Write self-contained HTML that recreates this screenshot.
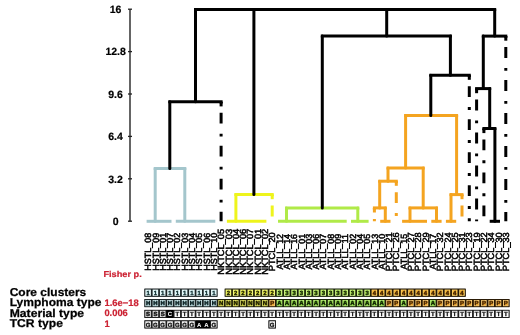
<!DOCTYPE html>
<html><head><meta charset="utf-8"><style>
html,body{margin:0;padding:0;background:#fff;}
svg{display:block;will-change:transform;}
text{font-family:"Liberation Sans",sans-serif;text-rendering:geometricPrecision;}
</style></head><body>
<svg width="520" height="335" viewBox="0 0 520 335">
<rect width="520" height="335" fill="#fff"/>
<g><line x1="130" y1="9.2" x2="130" y2="221.3" stroke="#545454" stroke-width="1.8"/>
<line x1="128" y1="9.2" x2="132" y2="9.2" stroke="#222" stroke-width="1.3"/><text x="115.6" y="12.95" font-size="10.5" font-weight="bold" text-anchor="middle" fill="#000" stroke="#000" stroke-width="0.2">16</text>
<line x1="128" y1="51.6" x2="132" y2="51.6" stroke="#222" stroke-width="1.3"/><text x="115.6" y="55.35" font-size="10.5" font-weight="bold" text-anchor="middle" fill="#000" stroke="#000" stroke-width="0.2">12.8</text>
<line x1="128" y1="94.0" x2="132" y2="94.0" stroke="#222" stroke-width="1.3"/><text x="115.6" y="97.75" font-size="10.5" font-weight="bold" text-anchor="middle" fill="#000" stroke="#000" stroke-width="0.2">9.6</text>
<line x1="128" y1="136.4" x2="132" y2="136.4" stroke="#222" stroke-width="1.3"/><text x="115.6" y="140.15" font-size="10.5" font-weight="bold" text-anchor="middle" fill="#000" stroke="#000" stroke-width="0.2">6.4</text>
<line x1="128" y1="178.8" x2="132" y2="178.8" stroke="#222" stroke-width="1.3"/><text x="115.6" y="182.55" font-size="10.5" font-weight="bold" text-anchor="middle" fill="#000" stroke="#000" stroke-width="0.2">3.2</text>
<line x1="128" y1="221.2" x2="132" y2="221.2" stroke="#222" stroke-width="1.3"/><text x="115.6" y="224.95" font-size="10.5" font-weight="bold" text-anchor="middle" fill="#000" stroke="#000" stroke-width="0.2">0</text>
</g>
<g stroke-width="3.0" stroke-linecap="butt" fill="none">
<line x1="153.70" y1="168.40" x2="186.30" y2="168.40" stroke="#a4c6cc"/><line x1="155.20" y1="168.40" x2="155.20" y2="221.30" stroke="#a4c6cc" stroke-linecap="round"/><line x1="184.80" y1="168.40" x2="184.80" y2="221.30" stroke="#a4c6cc" stroke-linecap="round"/><line x1="146.60" y1="221.30" x2="171.50" y2="221.30" stroke="#a4c6cc"/><line x1="175.80" y1="221.30" x2="215.30" y2="221.30" stroke="#a4c6cc"/><line x1="234.40" y1="194.60" x2="273.70" y2="194.60" stroke="#eef41c"/><line x1="235.90" y1="194.60" x2="235.90" y2="221.30" stroke="#eef41c" stroke-linecap="round"/><line x1="226.90" y1="221.30" x2="266.40" y2="221.30" stroke="#eef41c"/><line x1="285.00" y1="208.10" x2="359.30" y2="208.10" stroke="#b0ea48"/><line x1="286.50" y1="208.10" x2="286.50" y2="221.30" stroke="#b0ea48" stroke-linecap="round"/><line x1="357.80" y1="208.10" x2="357.80" y2="221.30" stroke="#b0ea48" stroke-linecap="round"/><line x1="278.00" y1="221.30" x2="346.70" y2="221.30" stroke="#b0ea48"/><line x1="351.00" y1="221.30" x2="368.60" y2="221.30" stroke="#b0ea48"/><line x1="404.10" y1="115.40" x2="458.10" y2="115.40" stroke="#f4a420"/><line x1="405.60" y1="115.40" x2="405.60" y2="168.10" stroke="#f4a420" stroke-linecap="round"/><line x1="456.60" y1="115.40" x2="456.60" y2="194.60" stroke="#f4a420" stroke-linecap="round"/><line x1="386.50" y1="168.10" x2="424.70" y2="168.10" stroke="#f4a420"/><line x1="388.00" y1="168.10" x2="388.00" y2="181.20" stroke="#f4a420" stroke-linecap="round"/><line x1="423.20" y1="168.10" x2="423.20" y2="207.90" stroke="#f4a420" stroke-linecap="round"/><line x1="378.20" y1="181.20" x2="397.80" y2="181.20" stroke="#f4a420"/><line x1="379.70" y1="181.20" x2="379.70" y2="207.90" stroke="#f4a420" stroke-linecap="round"/><line x1="372.90" y1="207.90" x2="386.80" y2="207.90" stroke="#f4a420"/><line x1="385.30" y1="207.90" x2="385.30" y2="221.30" stroke="#f4a420" stroke-linecap="round"/><line x1="380.20" y1="221.30" x2="390.50" y2="221.30" stroke="#f4a420"/><line x1="408.50" y1="207.90" x2="438.00" y2="207.90" stroke="#f4a420"/><line x1="410.00" y1="207.90" x2="410.00" y2="221.30" stroke="#f4a420" stroke-linecap="round"/><line x1="436.50" y1="207.90" x2="436.50" y2="221.30" stroke="#f4a420" stroke-linecap="round"/><line x1="402.10" y1="221.30" x2="427.00" y2="221.30" stroke="#f4a420"/><line x1="431.30" y1="221.30" x2="441.60" y2="221.30" stroke="#f4a420"/><line x1="449.50" y1="194.60" x2="463.50" y2="194.60" stroke="#f4a420"/><line x1="451.00" y1="194.60" x2="451.00" y2="221.30" stroke="#f4a420" stroke-linecap="round"/><line x1="445.90" y1="221.30" x2="456.20" y2="221.30" stroke="#f4a420"/><line x1="194.00" y1="9.45" x2="496.20" y2="9.45" stroke="#000"/><line x1="195.50" y1="9.45" x2="195.50" y2="101.80" stroke="#000" stroke-linecap="round"/><line x1="253.90" y1="9.45" x2="253.90" y2="194.60" stroke="#000" stroke-linecap="round"/><line x1="386.70" y1="9.45" x2="386.70" y2="36.10" stroke="#000" stroke-linecap="round"/><line x1="494.70" y1="9.45" x2="494.70" y2="36.10" stroke="#000" stroke-linecap="round"/><line x1="168.30" y1="101.80" x2="222.60" y2="101.80" stroke="#000"/><line x1="169.80" y1="101.80" x2="169.80" y2="168.40" stroke="#000" stroke-linecap="round"/><line x1="320.80" y1="36.10" x2="451.90" y2="36.10" stroke="#000"/><line x1="322.30" y1="36.10" x2="322.30" y2="208.10" stroke="#000" stroke-linecap="round"/><line x1="450.40" y1="36.10" x2="450.40" y2="75.20" stroke="#000" stroke-linecap="round"/><line x1="429.30" y1="75.20" x2="470.80" y2="75.20" stroke="#000"/><line x1="430.80" y1="75.20" x2="430.80" y2="115.40" stroke="#000" stroke-linecap="round"/><line x1="481.80" y1="36.10" x2="507.30" y2="36.10" stroke="#000"/><line x1="483.30" y1="36.10" x2="483.30" y2="88.60" stroke="#000" stroke-linecap="round"/><line x1="475.10" y1="88.60" x2="491.20" y2="88.60" stroke="#000"/><line x1="489.70" y1="88.60" x2="489.70" y2="128.50" stroke="#000" stroke-linecap="round"/><line x1="482.40" y1="128.50" x2="496.40" y2="128.50" stroke="#000"/><line x1="494.90" y1="128.50" x2="494.90" y2="221.30" stroke="#000" stroke-linecap="round"/><line x1="489.70" y1="221.30" x2="500.00" y2="221.30" stroke="#000"/>
<line x1="221.10" y1="101.80" x2="221.10" y2="221.30" stroke="#000" stroke-dasharray="2.9 9.25 10.8 10.05" stroke-dashoffset="1.15"/><line x1="221.10" y1="101.80" x2="221.10" y2="106.40" stroke="#000"/><line x1="469.30" y1="75.20" x2="469.30" y2="221.30" stroke="#000" stroke-dasharray="2.9 9.25 10.8 10.05" stroke-dashoffset="1.15"/><line x1="469.30" y1="75.20" x2="469.30" y2="79.80" stroke="#000"/><line x1="505.80" y1="36.10" x2="505.80" y2="221.30" stroke="#000" stroke-dasharray="2.9 9.25 10.8 10.05" stroke-dashoffset="1.15"/><line x1="505.80" y1="36.10" x2="505.80" y2="40.70" stroke="#000"/><line x1="476.60" y1="88.60" x2="476.60" y2="221.30" stroke="#000" stroke-dasharray="2.9 9.25 10.8 10.05" stroke-dashoffset="1.15"/><line x1="476.60" y1="88.60" x2="476.60" y2="93.20" stroke="#000"/><line x1="483.90" y1="128.50" x2="483.90" y2="221.30" stroke="#000" stroke-dasharray="2.9 9.25 10.8 10.05" stroke-dashoffset="1.15"/><line x1="483.90" y1="128.50" x2="483.90" y2="133.10" stroke="#000"/><line x1="272.20" y1="194.60" x2="272.20" y2="221.30" stroke="#eef41c" stroke-dasharray="2.9 9.25 10.8 10.05" stroke-dashoffset="1.15"/><line x1="272.20" y1="194.60" x2="272.20" y2="199.20" stroke="#eef41c"/><line x1="396.30" y1="181.20" x2="396.30" y2="221.30" stroke="#f4a420" stroke-dasharray="2.9 9.25 10.8 10.05" stroke-dashoffset="1.15"/><line x1="396.30" y1="181.20" x2="396.30" y2="185.80" stroke="#f4a420"/><line x1="374.40" y1="207.90" x2="374.40" y2="221.30" stroke="#f4a420" stroke-dasharray="2.9 9.25 10.8 10.05" stroke-dashoffset="1.15"/><line x1="374.40" y1="207.90" x2="374.40" y2="212.50" stroke="#f4a420"/><line x1="462.00" y1="194.60" x2="462.00" y2="221.30" stroke="#f4a420" stroke-dasharray="2.9 9.25 10.8 10.05" stroke-dashoffset="1.15"/><line x1="462.00" y1="194.60" x2="462.00" y2="199.20" stroke="#f4a420"/>
</g>
<g font-size="9" font-weight="normal" fill="#000" stroke="#000" stroke-width="0.5" text-anchor="middle">
<text transform="rotate(-90.01) translate(-251.8,151.20)" textLength="37.9" lengthAdjust="spacingAndGlyphs">HSTL_08</text><text transform="rotate(-90.01) translate(-251.8,158.50)" textLength="37.9" lengthAdjust="spacingAndGlyphs">HSTL_09</text><text transform="rotate(-90.01) translate(-251.8,165.80)" textLength="37.9" lengthAdjust="spacingAndGlyphs">HSTL_01</text><text transform="rotate(-90.01) translate(-251.8,173.10)" textLength="37.9" lengthAdjust="spacingAndGlyphs">HSTL_07</text><text transform="rotate(-90.01) translate(-251.8,180.40)" textLength="37.9" lengthAdjust="spacingAndGlyphs">HSTL_02</text><text transform="rotate(-90.01) translate(-251.8,187.70)" textLength="37.9" lengthAdjust="spacingAndGlyphs">HSTL_03</text><text transform="rotate(-90.01) translate(-251.8,195.00)" textLength="37.9" lengthAdjust="spacingAndGlyphs">HSTL_04</text><text transform="rotate(-90.01) translate(-251.8,202.30)" textLength="37.9" lengthAdjust="spacingAndGlyphs">HSTL_05</text><text transform="rotate(-90.01) translate(-251.8,209.60)" textLength="37.9" lengthAdjust="spacingAndGlyphs">HSTL_06</text><text transform="rotate(-90.01) translate(-251.8,216.90)" textLength="37.9" lengthAdjust="spacingAndGlyphs">HSTL_10</text><text transform="rotate(-90.01) translate(-251.8,224.20)" textLength="45.9" lengthAdjust="spacingAndGlyphs">NKTCL_05</text><text transform="rotate(-90.01) translate(-251.8,231.50)" textLength="45.9" lengthAdjust="spacingAndGlyphs">NKTCL_03</text><text transform="rotate(-90.01) translate(-251.8,238.80)" textLength="45.9" lengthAdjust="spacingAndGlyphs">NKTCL_04</text><text transform="rotate(-90.01) translate(-251.8,246.10)" textLength="45.9" lengthAdjust="spacingAndGlyphs">NKTCL_06</text><text transform="rotate(-90.01) translate(-251.8,253.40)" textLength="45.9" lengthAdjust="spacingAndGlyphs">NKTCL_07</text><text transform="rotate(-90.01) translate(-251.8,260.70)" textLength="45.9" lengthAdjust="spacingAndGlyphs">NKTCL_01</text><text transform="rotate(-90.01) translate(-251.8,268.00)" textLength="45.9" lengthAdjust="spacingAndGlyphs">NKTCL_02</text><text transform="rotate(-90.01) translate(-251.8,275.30)" textLength="38.9" lengthAdjust="spacingAndGlyphs">PTCL_20</text><text transform="rotate(-90.01) translate(-251.8,282.60)" textLength="35.7" lengthAdjust="spacingAndGlyphs">ATLL_12</text><text transform="rotate(-90.01) translate(-251.8,289.90)" textLength="35.7" lengthAdjust="spacingAndGlyphs">ATLL_14</text><text transform="rotate(-90.01) translate(-251.8,297.20)" textLength="35.7" lengthAdjust="spacingAndGlyphs">ATLL_16</text><text transform="rotate(-90.01) translate(-251.8,304.50)" textLength="35.7" lengthAdjust="spacingAndGlyphs">ATLL_01</text><text transform="rotate(-90.01) translate(-251.8,311.80)" textLength="35.7" lengthAdjust="spacingAndGlyphs">ATLL_03</text><text transform="rotate(-90.01) translate(-251.8,319.10)" textLength="35.7" lengthAdjust="spacingAndGlyphs">ATLL_06</text><text transform="rotate(-90.01) translate(-251.8,326.40)" textLength="35.7" lengthAdjust="spacingAndGlyphs">ATLL_07</text><text transform="rotate(-90.01) translate(-251.8,333.70)" textLength="35.7" lengthAdjust="spacingAndGlyphs">ATLL_08</text><text transform="rotate(-90.01) translate(-251.8,341.00)" textLength="35.7" lengthAdjust="spacingAndGlyphs">ATLL_09</text><text transform="rotate(-90.01) translate(-251.8,348.30)" textLength="35.7" lengthAdjust="spacingAndGlyphs">ATLL_11</text><text transform="rotate(-90.01) translate(-251.8,355.60)" textLength="35.7" lengthAdjust="spacingAndGlyphs">ATLL_02</text><text transform="rotate(-90.01) translate(-251.8,362.90)" textLength="35.7" lengthAdjust="spacingAndGlyphs">ATLL_04</text><text transform="rotate(-90.01) translate(-251.8,370.20)" textLength="35.7" lengthAdjust="spacingAndGlyphs">ATLL_05</text><text transform="rotate(-90.01) translate(-251.8,377.50)" textLength="35.7" lengthAdjust="spacingAndGlyphs">ATLL_13</text><text transform="rotate(-90.01) translate(-251.8,384.80)" textLength="35.7" lengthAdjust="spacingAndGlyphs">ATLL_10</text><text transform="rotate(-90.01) translate(-251.8,392.10)" textLength="38.9" lengthAdjust="spacingAndGlyphs">PTCL_21</text><text transform="rotate(-90.01) translate(-251.8,399.40)" textLength="38.9" lengthAdjust="spacingAndGlyphs">PTCL_26</text><text transform="rotate(-90.01) translate(-251.8,406.70)" textLength="35.7" lengthAdjust="spacingAndGlyphs">ATLL_15</text><text transform="rotate(-90.01) translate(-251.8,414.00)" textLength="38.9" lengthAdjust="spacingAndGlyphs">PTCL_27</text><text transform="rotate(-90.01) translate(-251.8,421.30)" textLength="38.9" lengthAdjust="spacingAndGlyphs">PTCL_28</text><text transform="rotate(-90.01) translate(-251.8,428.60)" textLength="38.9" lengthAdjust="spacingAndGlyphs">PTCL_29</text><text transform="rotate(-90.01) translate(-251.8,435.90)" textLength="35.7" lengthAdjust="spacingAndGlyphs">ATLL_17</text><text transform="rotate(-90.01) translate(-251.8,443.20)" textLength="38.9" lengthAdjust="spacingAndGlyphs">PTCL_32</text><text transform="rotate(-90.01) translate(-251.8,450.50)" textLength="38.9" lengthAdjust="spacingAndGlyphs">PTCL_24</text><text transform="rotate(-90.01) translate(-251.8,457.80)" textLength="38.9" lengthAdjust="spacingAndGlyphs">PTCL_25</text><text transform="rotate(-90.01) translate(-251.8,465.10)" textLength="38.9" lengthAdjust="spacingAndGlyphs">PTCL_31</text><text transform="rotate(-90.01) translate(-251.8,472.40)" textLength="38.9" lengthAdjust="spacingAndGlyphs">PTCL_23</text><text transform="rotate(-90.01) translate(-251.8,479.70)" textLength="38.9" lengthAdjust="spacingAndGlyphs">PTCL_19</text><text transform="rotate(-90.01) translate(-251.8,487.00)" textLength="38.9" lengthAdjust="spacingAndGlyphs">PTCL_22</text><text transform="rotate(-90.01) translate(-251.8,494.30)" textLength="38.9" lengthAdjust="spacingAndGlyphs">PTCL_34</text><text transform="rotate(-90.01) translate(-251.8,501.60)" textLength="38.9" lengthAdjust="spacingAndGlyphs">PTCL_30</text><text transform="rotate(-90.01) translate(-251.8,508.90)" textLength="38.9" lengthAdjust="spacingAndGlyphs">PTCL_33</text>
</g>
<g font-size="11.4" font-weight="bold" fill="#000" stroke="#000" stroke-width="0.25">
<text x="9.7" y="295.5" textLength="76.6" lengthAdjust="spacingAndGlyphs">Core clusters</text><text x="9.7" y="306.0" textLength="91.8" lengthAdjust="spacingAndGlyphs">Lymphoma type</text><text x="9.7" y="316.5" textLength="74.4" lengthAdjust="spacingAndGlyphs">Material type</text><text x="9.7" y="326.6" textLength="53.2" lengthAdjust="spacingAndGlyphs">TCR type</text>
</g>
<g font-size="8.6" font-weight="bold" fill="#cc2233" stroke="#cc2233" stroke-width="0.2"><text x="103.4" y="276.8" textLength="38.4" lengthAdjust="spacingAndGlyphs">Fisher p.</text></g>
<g font-size="9.4" fill="#cc2233" font-weight="bold" stroke="#cc2233" stroke-width="0.2"><text x="104.4" y="305.9" textLength="34.3" lengthAdjust="spacingAndGlyphs">1.6e−18</text><text x="104.4" y="316.4" textLength="23.4" lengthAdjust="spacingAndGlyphs">0.006</text><text x="104.4" y="326.6">1</text></g>
<g font-size="6.0" font-weight="bold" text-anchor="middle" stroke-width="0.3">
<rect x="144.45" y="288.70" width="73.00" height="8.0" fill="#1e1e1e"/><rect x="144.45" y="288.70" width="7.30" height="8.0" fill="#1e2a2c"/><rect x="145.35" y="289.60" width="5.50" height="6.20" fill="#f4ffff"/><rect x="146.05" y="290.30" width="4.10" height="4.80" fill="#d8f4f6"/><text x="148.10" y="294.90" fill="#0e2a2c" stroke="#0e2a2c">1</text><rect x="151.75" y="288.70" width="7.30" height="8.0" fill="#1e2a2c"/><rect x="152.65" y="289.60" width="5.50" height="6.20" fill="#f4ffff"/><rect x="153.35" y="290.30" width="4.10" height="4.80" fill="#d8f4f6"/><text x="155.40" y="294.90" fill="#0e2a2c" stroke="#0e2a2c">1</text><rect x="159.05" y="288.70" width="7.30" height="8.0" fill="#1e2a2c"/><rect x="159.95" y="289.60" width="5.50" height="6.20" fill="#f4ffff"/><rect x="160.65" y="290.30" width="4.10" height="4.80" fill="#d8f4f6"/><text x="162.70" y="294.90" fill="#0e2a2c" stroke="#0e2a2c">1</text><rect x="166.35" y="288.70" width="7.30" height="8.0" fill="#1e2a2c"/><rect x="167.25" y="289.60" width="5.50" height="6.20" fill="#f4ffff"/><rect x="167.95" y="290.30" width="4.10" height="4.80" fill="#d8f4f6"/><text x="170.00" y="294.90" fill="#0e2a2c" stroke="#0e2a2c">1</text><rect x="173.65" y="288.70" width="7.30" height="8.0" fill="#1e2a2c"/><rect x="174.55" y="289.60" width="5.50" height="6.20" fill="#f4ffff"/><rect x="175.25" y="290.30" width="4.10" height="4.80" fill="#d8f4f6"/><text x="177.30" y="294.90" fill="#0e2a2c" stroke="#0e2a2c">1</text><rect x="180.95" y="288.70" width="7.30" height="8.0" fill="#1e2a2c"/><rect x="181.85" y="289.60" width="5.50" height="6.20" fill="#f4ffff"/><rect x="182.55" y="290.30" width="4.10" height="4.80" fill="#d8f4f6"/><text x="184.60" y="294.90" fill="#0e2a2c" stroke="#0e2a2c">1</text><rect x="188.25" y="288.70" width="7.30" height="8.0" fill="#1e2a2c"/><rect x="189.15" y="289.60" width="5.50" height="6.20" fill="#f4ffff"/><rect x="189.85" y="290.30" width="4.10" height="4.80" fill="#d8f4f6"/><text x="191.90" y="294.90" fill="#0e2a2c" stroke="#0e2a2c">1</text><rect x="195.55" y="288.70" width="7.30" height="8.0" fill="#1e2a2c"/><rect x="196.45" y="289.60" width="5.50" height="6.20" fill="#f4ffff"/><rect x="197.15" y="290.30" width="4.10" height="4.80" fill="#d8f4f6"/><text x="199.20" y="294.90" fill="#0e2a2c" stroke="#0e2a2c">1</text><rect x="202.85" y="288.70" width="7.30" height="8.0" fill="#1e2a2c"/><rect x="203.75" y="289.60" width="5.50" height="6.20" fill="#f4ffff"/><rect x="204.45" y="290.30" width="4.10" height="4.80" fill="#d8f4f6"/><text x="206.50" y="294.90" fill="#0e2a2c" stroke="#0e2a2c">1</text><rect x="210.15" y="288.70" width="7.30" height="8.0" fill="#1e2a2c"/><rect x="211.05" y="289.60" width="5.50" height="6.20" fill="#f4ffff"/><rect x="211.75" y="290.30" width="4.10" height="4.80" fill="#d8f4f6"/><text x="213.80" y="294.90" fill="#0e2a2c" stroke="#0e2a2c">1</text><rect x="224.75" y="288.70" width="240.90" height="8.0" fill="#1e1e1e"/><rect x="224.75" y="288.70" width="7.30" height="8.0" fill="#28280a"/><rect x="225.65" y="289.60" width="5.50" height="6.20" fill="#fcffa0"/><rect x="226.35" y="290.30" width="4.10" height="4.80" fill="#eaf040"/><text x="228.40" y="294.90" fill="#1a1a00" stroke="#1a1a00">2</text><rect x="232.05" y="288.70" width="7.30" height="8.0" fill="#28280a"/><rect x="232.95" y="289.60" width="5.50" height="6.20" fill="#fcffa0"/><rect x="233.65" y="290.30" width="4.10" height="4.80" fill="#eaf040"/><text x="235.70" y="294.90" fill="#1a1a00" stroke="#1a1a00">2</text><rect x="239.35" y="288.70" width="7.30" height="8.0" fill="#28280a"/><rect x="240.25" y="289.60" width="5.50" height="6.20" fill="#fcffa0"/><rect x="240.95" y="290.30" width="4.10" height="4.80" fill="#eaf040"/><text x="243.00" y="294.90" fill="#1a1a00" stroke="#1a1a00">2</text><rect x="246.65" y="288.70" width="7.30" height="8.0" fill="#28280a"/><rect x="247.55" y="289.60" width="5.50" height="6.20" fill="#fcffa0"/><rect x="248.25" y="290.30" width="4.10" height="4.80" fill="#eaf040"/><text x="250.30" y="294.90" fill="#1a1a00" stroke="#1a1a00">2</text><rect x="253.95" y="288.70" width="7.30" height="8.0" fill="#28280a"/><rect x="254.85" y="289.60" width="5.50" height="6.20" fill="#fcffa0"/><rect x="255.55" y="290.30" width="4.10" height="4.80" fill="#eaf040"/><text x="257.60" y="294.90" fill="#1a1a00" stroke="#1a1a00">2</text><rect x="261.25" y="288.70" width="7.30" height="8.0" fill="#28280a"/><rect x="262.15" y="289.60" width="5.50" height="6.20" fill="#fcffa0"/><rect x="262.85" y="290.30" width="4.10" height="4.80" fill="#eaf040"/><text x="264.90" y="294.90" fill="#1a1a00" stroke="#1a1a00">2</text><rect x="268.55" y="288.70" width="7.30" height="8.0" fill="#28280a"/><rect x="269.45" y="289.60" width="5.50" height="6.20" fill="#fcffa0"/><rect x="270.15" y="290.30" width="4.10" height="4.80" fill="#eaf040"/><text x="272.20" y="294.90" fill="#1a1a00" stroke="#1a1a00">2</text><rect x="275.85" y="288.70" width="7.30" height="8.0" fill="#1a2808"/><rect x="276.75" y="289.60" width="5.50" height="6.20" fill="#defe9c"/><rect x="277.45" y="290.30" width="4.10" height="4.80" fill="#ace452"/><text x="279.50" y="294.90" fill="#0c1c00" stroke="#0c1c00">3</text><rect x="283.15" y="288.70" width="7.30" height="8.0" fill="#1a2808"/><rect x="284.05" y="289.60" width="5.50" height="6.20" fill="#defe9c"/><rect x="284.75" y="290.30" width="4.10" height="4.80" fill="#ace452"/><text x="286.80" y="294.90" fill="#0c1c00" stroke="#0c1c00">3</text><rect x="290.45" y="288.70" width="7.30" height="8.0" fill="#1a2808"/><rect x="291.35" y="289.60" width="5.50" height="6.20" fill="#defe9c"/><rect x="292.05" y="290.30" width="4.10" height="4.80" fill="#ace452"/><text x="294.10" y="294.90" fill="#0c1c00" stroke="#0c1c00">3</text><rect x="297.75" y="288.70" width="7.30" height="8.0" fill="#1a2808"/><rect x="298.65" y="289.60" width="5.50" height="6.20" fill="#defe9c"/><rect x="299.35" y="290.30" width="4.10" height="4.80" fill="#ace452"/><text x="301.40" y="294.90" fill="#0c1c00" stroke="#0c1c00">3</text><rect x="305.05" y="288.70" width="7.30" height="8.0" fill="#1a2808"/><rect x="305.95" y="289.60" width="5.50" height="6.20" fill="#defe9c"/><rect x="306.65" y="290.30" width="4.10" height="4.80" fill="#ace452"/><text x="308.70" y="294.90" fill="#0c1c00" stroke="#0c1c00">3</text><rect x="312.35" y="288.70" width="7.30" height="8.0" fill="#1a2808"/><rect x="313.25" y="289.60" width="5.50" height="6.20" fill="#defe9c"/><rect x="313.95" y="290.30" width="4.10" height="4.80" fill="#ace452"/><text x="316.00" y="294.90" fill="#0c1c00" stroke="#0c1c00">3</text><rect x="319.65" y="288.70" width="7.30" height="8.0" fill="#1a2808"/><rect x="320.55" y="289.60" width="5.50" height="6.20" fill="#defe9c"/><rect x="321.25" y="290.30" width="4.10" height="4.80" fill="#ace452"/><text x="323.30" y="294.90" fill="#0c1c00" stroke="#0c1c00">3</text><rect x="326.95" y="288.70" width="7.30" height="8.0" fill="#1a2808"/><rect x="327.85" y="289.60" width="5.50" height="6.20" fill="#defe9c"/><rect x="328.55" y="290.30" width="4.10" height="4.80" fill="#ace452"/><text x="330.60" y="294.90" fill="#0c1c00" stroke="#0c1c00">3</text><rect x="334.25" y="288.70" width="7.30" height="8.0" fill="#1a2808"/><rect x="335.15" y="289.60" width="5.50" height="6.20" fill="#defe9c"/><rect x="335.85" y="290.30" width="4.10" height="4.80" fill="#ace452"/><text x="337.90" y="294.90" fill="#0c1c00" stroke="#0c1c00">3</text><rect x="341.55" y="288.70" width="7.30" height="8.0" fill="#1a2808"/><rect x="342.45" y="289.60" width="5.50" height="6.20" fill="#defe9c"/><rect x="343.15" y="290.30" width="4.10" height="4.80" fill="#ace452"/><text x="345.20" y="294.90" fill="#0c1c00" stroke="#0c1c00">3</text><rect x="348.85" y="288.70" width="7.30" height="8.0" fill="#1a2808"/><rect x="349.75" y="289.60" width="5.50" height="6.20" fill="#defe9c"/><rect x="350.45" y="290.30" width="4.10" height="4.80" fill="#ace452"/><text x="352.50" y="294.90" fill="#0c1c00" stroke="#0c1c00">3</text><rect x="356.15" y="288.70" width="7.30" height="8.0" fill="#1a2808"/><rect x="357.05" y="289.60" width="5.50" height="6.20" fill="#defe9c"/><rect x="357.75" y="290.30" width="4.10" height="4.80" fill="#ace452"/><text x="359.80" y="294.90" fill="#0c1c00" stroke="#0c1c00">3</text><rect x="363.45" y="288.70" width="7.30" height="8.0" fill="#1a2808"/><rect x="364.35" y="289.60" width="5.50" height="6.20" fill="#defe9c"/><rect x="365.05" y="290.30" width="4.10" height="4.80" fill="#ace452"/><text x="367.10" y="294.90" fill="#0c1c00" stroke="#0c1c00">3</text><rect x="370.75" y="288.70" width="7.30" height="8.0" fill="#2a1a00"/><rect x="371.65" y="289.60" width="5.50" height="6.20" fill="#ffdc78"/><rect x="372.35" y="290.30" width="4.10" height="4.80" fill="#eeaa2a"/><text x="374.40" y="294.90" fill="#3a1c00" stroke="#3a1c00">4</text><rect x="378.05" y="288.70" width="7.30" height="8.0" fill="#2a1a00"/><rect x="378.95" y="289.60" width="5.50" height="6.20" fill="#ffdc78"/><rect x="379.65" y="290.30" width="4.10" height="4.80" fill="#eeaa2a"/><text x="381.70" y="294.90" fill="#3a1c00" stroke="#3a1c00">4</text><rect x="385.35" y="288.70" width="7.30" height="8.0" fill="#2a1a00"/><rect x="386.25" y="289.60" width="5.50" height="6.20" fill="#ffdc78"/><rect x="386.95" y="290.30" width="4.10" height="4.80" fill="#eeaa2a"/><text x="389.00" y="294.90" fill="#3a1c00" stroke="#3a1c00">4</text><rect x="392.65" y="288.70" width="7.30" height="8.0" fill="#2a1a00"/><rect x="393.55" y="289.60" width="5.50" height="6.20" fill="#ffdc78"/><rect x="394.25" y="290.30" width="4.10" height="4.80" fill="#eeaa2a"/><text x="396.30" y="294.90" fill="#3a1c00" stroke="#3a1c00">4</text><rect x="399.95" y="288.70" width="7.30" height="8.0" fill="#2a1a00"/><rect x="400.85" y="289.60" width="5.50" height="6.20" fill="#ffdc78"/><rect x="401.55" y="290.30" width="4.10" height="4.80" fill="#eeaa2a"/><text x="403.60" y="294.90" fill="#3a1c00" stroke="#3a1c00">4</text><rect x="407.25" y="288.70" width="7.30" height="8.0" fill="#2a1a00"/><rect x="408.15" y="289.60" width="5.50" height="6.20" fill="#ffdc78"/><rect x="408.85" y="290.30" width="4.10" height="4.80" fill="#eeaa2a"/><text x="410.90" y="294.90" fill="#3a1c00" stroke="#3a1c00">4</text><rect x="414.55" y="288.70" width="7.30" height="8.0" fill="#2a1a00"/><rect x="415.45" y="289.60" width="5.50" height="6.20" fill="#ffdc78"/><rect x="416.15" y="290.30" width="4.10" height="4.80" fill="#eeaa2a"/><text x="418.20" y="294.90" fill="#3a1c00" stroke="#3a1c00">4</text><rect x="421.85" y="288.70" width="7.30" height="8.0" fill="#2a1a00"/><rect x="422.75" y="289.60" width="5.50" height="6.20" fill="#ffdc78"/><rect x="423.45" y="290.30" width="4.10" height="4.80" fill="#eeaa2a"/><text x="425.50" y="294.90" fill="#3a1c00" stroke="#3a1c00">4</text><rect x="429.15" y="288.70" width="7.30" height="8.0" fill="#2a1a00"/><rect x="430.05" y="289.60" width="5.50" height="6.20" fill="#ffdc78"/><rect x="430.75" y="290.30" width="4.10" height="4.80" fill="#eeaa2a"/><text x="432.80" y="294.90" fill="#3a1c00" stroke="#3a1c00">4</text><rect x="436.45" y="288.70" width="7.30" height="8.0" fill="#2a1a00"/><rect x="437.35" y="289.60" width="5.50" height="6.20" fill="#ffdc78"/><rect x="438.05" y="290.30" width="4.10" height="4.80" fill="#eeaa2a"/><text x="440.10" y="294.90" fill="#3a1c00" stroke="#3a1c00">4</text><rect x="443.75" y="288.70" width="7.30" height="8.0" fill="#2a1a00"/><rect x="444.65" y="289.60" width="5.50" height="6.20" fill="#ffdc78"/><rect x="445.35" y="290.30" width="4.10" height="4.80" fill="#eeaa2a"/><text x="447.40" y="294.90" fill="#3a1c00" stroke="#3a1c00">4</text><rect x="451.05" y="288.70" width="7.30" height="8.0" fill="#2a1a00"/><rect x="451.95" y="289.60" width="5.50" height="6.20" fill="#ffdc78"/><rect x="452.65" y="290.30" width="4.10" height="4.80" fill="#eeaa2a"/><text x="454.70" y="294.90" fill="#3a1c00" stroke="#3a1c00">4</text><rect x="458.35" y="288.70" width="7.30" height="8.0" fill="#2a1a00"/><rect x="459.25" y="289.60" width="5.50" height="6.20" fill="#ffdc78"/><rect x="459.95" y="290.30" width="4.10" height="4.80" fill="#eeaa2a"/><text x="462.00" y="294.90" fill="#3a1c00" stroke="#3a1c00">4</text>
<rect x="144.45" y="299.10" width="365.00" height="8.0" fill="#1e1e1e"/><rect x="144.45" y="299.10" width="7.30" height="8.0" fill="#1e2a2c"/><rect x="145.35" y="300.00" width="5.50" height="6.20" fill="#d8eef0"/><rect x="146.05" y="300.70" width="4.10" height="4.80" fill="#94b8bc"/><text x="148.10" y="305.30" fill="#06181a" stroke="#06181a">H</text><rect x="151.75" y="299.10" width="7.30" height="8.0" fill="#1e2a2c"/><rect x="152.65" y="300.00" width="5.50" height="6.20" fill="#d8eef0"/><rect x="153.35" y="300.70" width="4.10" height="4.80" fill="#94b8bc"/><text x="155.40" y="305.30" fill="#06181a" stroke="#06181a">H</text><rect x="159.05" y="299.10" width="7.30" height="8.0" fill="#1e2a2c"/><rect x="159.95" y="300.00" width="5.50" height="6.20" fill="#d8eef0"/><rect x="160.65" y="300.70" width="4.10" height="4.80" fill="#94b8bc"/><text x="162.70" y="305.30" fill="#06181a" stroke="#06181a">H</text><rect x="166.35" y="299.10" width="7.30" height="8.0" fill="#1e2a2c"/><rect x="167.25" y="300.00" width="5.50" height="6.20" fill="#d8eef0"/><rect x="167.95" y="300.70" width="4.10" height="4.80" fill="#94b8bc"/><text x="170.00" y="305.30" fill="#06181a" stroke="#06181a">H</text><rect x="173.65" y="299.10" width="7.30" height="8.0" fill="#1e2a2c"/><rect x="174.55" y="300.00" width="5.50" height="6.20" fill="#d8eef0"/><rect x="175.25" y="300.70" width="4.10" height="4.80" fill="#94b8bc"/><text x="177.30" y="305.30" fill="#06181a" stroke="#06181a">H</text><rect x="180.95" y="299.10" width="7.30" height="8.0" fill="#1e2a2c"/><rect x="181.85" y="300.00" width="5.50" height="6.20" fill="#d8eef0"/><rect x="182.55" y="300.70" width="4.10" height="4.80" fill="#94b8bc"/><text x="184.60" y="305.30" fill="#06181a" stroke="#06181a">H</text><rect x="188.25" y="299.10" width="7.30" height="8.0" fill="#1e2a2c"/><rect x="189.15" y="300.00" width="5.50" height="6.20" fill="#d8eef0"/><rect x="189.85" y="300.70" width="4.10" height="4.80" fill="#94b8bc"/><text x="191.90" y="305.30" fill="#06181a" stroke="#06181a">H</text><rect x="195.55" y="299.10" width="7.30" height="8.0" fill="#1e2a2c"/><rect x="196.45" y="300.00" width="5.50" height="6.20" fill="#d8eef0"/><rect x="197.15" y="300.70" width="4.10" height="4.80" fill="#94b8bc"/><text x="199.20" y="305.30" fill="#06181a" stroke="#06181a">H</text><rect x="202.85" y="299.10" width="7.30" height="8.0" fill="#1e2a2c"/><rect x="203.75" y="300.00" width="5.50" height="6.20" fill="#d8eef0"/><rect x="204.45" y="300.70" width="4.10" height="4.80" fill="#94b8bc"/><text x="206.50" y="305.30" fill="#06181a" stroke="#06181a">H</text><rect x="210.15" y="299.10" width="7.30" height="8.0" fill="#1e2a2c"/><rect x="211.05" y="300.00" width="5.50" height="6.20" fill="#d8eef0"/><rect x="211.75" y="300.70" width="4.10" height="4.80" fill="#94b8bc"/><text x="213.80" y="305.30" fill="#06181a" stroke="#06181a">H</text><rect x="217.45" y="299.10" width="7.30" height="8.0" fill="#24240a"/><rect x="218.35" y="300.00" width="5.50" height="6.20" fill="#eaea7a"/><rect x="219.05" y="300.70" width="4.10" height="4.80" fill="#bcbc2a"/><text x="221.10" y="305.30" fill="#141400" stroke="#141400">N</text><rect x="224.75" y="299.10" width="7.30" height="8.0" fill="#24240a"/><rect x="225.65" y="300.00" width="5.50" height="6.20" fill="#eaea7a"/><rect x="226.35" y="300.70" width="4.10" height="4.80" fill="#bcbc2a"/><text x="228.40" y="305.30" fill="#141400" stroke="#141400">N</text><rect x="232.05" y="299.10" width="7.30" height="8.0" fill="#24240a"/><rect x="232.95" y="300.00" width="5.50" height="6.20" fill="#eaea7a"/><rect x="233.65" y="300.70" width="4.10" height="4.80" fill="#bcbc2a"/><text x="235.70" y="305.30" fill="#141400" stroke="#141400">N</text><rect x="239.35" y="299.10" width="7.30" height="8.0" fill="#24240a"/><rect x="240.25" y="300.00" width="5.50" height="6.20" fill="#eaea7a"/><rect x="240.95" y="300.70" width="4.10" height="4.80" fill="#bcbc2a"/><text x="243.00" y="305.30" fill="#141400" stroke="#141400">N</text><rect x="246.65" y="299.10" width="7.30" height="8.0" fill="#24240a"/><rect x="247.55" y="300.00" width="5.50" height="6.20" fill="#eaea7a"/><rect x="248.25" y="300.70" width="4.10" height="4.80" fill="#bcbc2a"/><text x="250.30" y="305.30" fill="#141400" stroke="#141400">N</text><rect x="253.95" y="299.10" width="7.30" height="8.0" fill="#24240a"/><rect x="254.85" y="300.00" width="5.50" height="6.20" fill="#eaea7a"/><rect x="255.55" y="300.70" width="4.10" height="4.80" fill="#bcbc2a"/><text x="257.60" y="305.30" fill="#141400" stroke="#141400">N</text><rect x="261.25" y="299.10" width="7.30" height="8.0" fill="#24240a"/><rect x="262.15" y="300.00" width="5.50" height="6.20" fill="#eaea7a"/><rect x="262.85" y="300.70" width="4.10" height="4.80" fill="#bcbc2a"/><text x="264.90" y="305.30" fill="#141400" stroke="#141400">N</text><rect x="268.55" y="299.10" width="7.30" height="8.0" fill="#2a1800"/><rect x="269.45" y="300.00" width="5.50" height="6.20" fill="#fad488"/><rect x="270.15" y="300.70" width="4.10" height="4.80" fill="#e49e2a"/><text x="272.20" y="305.30" fill="#3a1c00" stroke="#3a1c00">P</text><rect x="275.85" y="299.10" width="7.30" height="8.0" fill="#1a2808"/><rect x="276.75" y="300.00" width="5.50" height="6.20" fill="#c2f286"/><rect x="277.45" y="300.70" width="4.10" height="4.80" fill="#7cc434"/><text x="279.50" y="305.30" fill="#081800" stroke="#081800">A</text><rect x="283.15" y="299.10" width="7.30" height="8.0" fill="#1a2808"/><rect x="284.05" y="300.00" width="5.50" height="6.20" fill="#c2f286"/><rect x="284.75" y="300.70" width="4.10" height="4.80" fill="#7cc434"/><text x="286.80" y="305.30" fill="#081800" stroke="#081800">A</text><rect x="290.45" y="299.10" width="7.30" height="8.0" fill="#1a2808"/><rect x="291.35" y="300.00" width="5.50" height="6.20" fill="#c2f286"/><rect x="292.05" y="300.70" width="4.10" height="4.80" fill="#7cc434"/><text x="294.10" y="305.30" fill="#081800" stroke="#081800">A</text><rect x="297.75" y="299.10" width="7.30" height="8.0" fill="#1a2808"/><rect x="298.65" y="300.00" width="5.50" height="6.20" fill="#c2f286"/><rect x="299.35" y="300.70" width="4.10" height="4.80" fill="#7cc434"/><text x="301.40" y="305.30" fill="#081800" stroke="#081800">A</text><rect x="305.05" y="299.10" width="7.30" height="8.0" fill="#1a2808"/><rect x="305.95" y="300.00" width="5.50" height="6.20" fill="#c2f286"/><rect x="306.65" y="300.70" width="4.10" height="4.80" fill="#7cc434"/><text x="308.70" y="305.30" fill="#081800" stroke="#081800">A</text><rect x="312.35" y="299.10" width="7.30" height="8.0" fill="#1a2808"/><rect x="313.25" y="300.00" width="5.50" height="6.20" fill="#c2f286"/><rect x="313.95" y="300.70" width="4.10" height="4.80" fill="#7cc434"/><text x="316.00" y="305.30" fill="#081800" stroke="#081800">A</text><rect x="319.65" y="299.10" width="7.30" height="8.0" fill="#1a2808"/><rect x="320.55" y="300.00" width="5.50" height="6.20" fill="#c2f286"/><rect x="321.25" y="300.70" width="4.10" height="4.80" fill="#7cc434"/><text x="323.30" y="305.30" fill="#081800" stroke="#081800">A</text><rect x="326.95" y="299.10" width="7.30" height="8.0" fill="#1a2808"/><rect x="327.85" y="300.00" width="5.50" height="6.20" fill="#c2f286"/><rect x="328.55" y="300.70" width="4.10" height="4.80" fill="#7cc434"/><text x="330.60" y="305.30" fill="#081800" stroke="#081800">A</text><rect x="334.25" y="299.10" width="7.30" height="8.0" fill="#1a2808"/><rect x="335.15" y="300.00" width="5.50" height="6.20" fill="#c2f286"/><rect x="335.85" y="300.70" width="4.10" height="4.80" fill="#7cc434"/><text x="337.90" y="305.30" fill="#081800" stroke="#081800">A</text><rect x="341.55" y="299.10" width="7.30" height="8.0" fill="#1a2808"/><rect x="342.45" y="300.00" width="5.50" height="6.20" fill="#c2f286"/><rect x="343.15" y="300.70" width="4.10" height="4.80" fill="#7cc434"/><text x="345.20" y="305.30" fill="#081800" stroke="#081800">A</text><rect x="348.85" y="299.10" width="7.30" height="8.0" fill="#1a2808"/><rect x="349.75" y="300.00" width="5.50" height="6.20" fill="#c2f286"/><rect x="350.45" y="300.70" width="4.10" height="4.80" fill="#7cc434"/><text x="352.50" y="305.30" fill="#081800" stroke="#081800">A</text><rect x="356.15" y="299.10" width="7.30" height="8.0" fill="#1a2808"/><rect x="357.05" y="300.00" width="5.50" height="6.20" fill="#c2f286"/><rect x="357.75" y="300.70" width="4.10" height="4.80" fill="#7cc434"/><text x="359.80" y="305.30" fill="#081800" stroke="#081800">A</text><rect x="363.45" y="299.10" width="7.30" height="8.0" fill="#1a2808"/><rect x="364.35" y="300.00" width="5.50" height="6.20" fill="#c2f286"/><rect x="365.05" y="300.70" width="4.10" height="4.80" fill="#7cc434"/><text x="367.10" y="305.30" fill="#081800" stroke="#081800">A</text><rect x="370.75" y="299.10" width="7.30" height="8.0" fill="#1a2808"/><rect x="371.65" y="300.00" width="5.50" height="6.20" fill="#c2f286"/><rect x="372.35" y="300.70" width="4.10" height="4.80" fill="#7cc434"/><text x="374.40" y="305.30" fill="#081800" stroke="#081800">A</text><rect x="378.05" y="299.10" width="7.30" height="8.0" fill="#1a2808"/><rect x="378.95" y="300.00" width="5.50" height="6.20" fill="#c2f286"/><rect x="379.65" y="300.70" width="4.10" height="4.80" fill="#7cc434"/><text x="381.70" y="305.30" fill="#081800" stroke="#081800">A</text><rect x="385.35" y="299.10" width="7.30" height="8.0" fill="#2a1800"/><rect x="386.25" y="300.00" width="5.50" height="6.20" fill="#fad488"/><rect x="386.95" y="300.70" width="4.10" height="4.80" fill="#e49e2a"/><text x="389.00" y="305.30" fill="#3a1c00" stroke="#3a1c00">P</text><rect x="392.65" y="299.10" width="7.30" height="8.0" fill="#2a1800"/><rect x="393.55" y="300.00" width="5.50" height="6.20" fill="#fad488"/><rect x="394.25" y="300.70" width="4.10" height="4.80" fill="#e49e2a"/><text x="396.30" y="305.30" fill="#3a1c00" stroke="#3a1c00">P</text><rect x="399.95" y="299.10" width="7.30" height="8.0" fill="#1a2808"/><rect x="400.85" y="300.00" width="5.50" height="6.20" fill="#c2f286"/><rect x="401.55" y="300.70" width="4.10" height="4.80" fill="#7cc434"/><text x="403.60" y="305.30" fill="#081800" stroke="#081800">A</text><rect x="407.25" y="299.10" width="7.30" height="8.0" fill="#2a1800"/><rect x="408.15" y="300.00" width="5.50" height="6.20" fill="#fad488"/><rect x="408.85" y="300.70" width="4.10" height="4.80" fill="#e49e2a"/><text x="410.90" y="305.30" fill="#3a1c00" stroke="#3a1c00">P</text><rect x="414.55" y="299.10" width="7.30" height="8.0" fill="#2a1800"/><rect x="415.45" y="300.00" width="5.50" height="6.20" fill="#fad488"/><rect x="416.15" y="300.70" width="4.10" height="4.80" fill="#e49e2a"/><text x="418.20" y="305.30" fill="#3a1c00" stroke="#3a1c00">P</text><rect x="421.85" y="299.10" width="7.30" height="8.0" fill="#2a1800"/><rect x="422.75" y="300.00" width="5.50" height="6.20" fill="#fad488"/><rect x="423.45" y="300.70" width="4.10" height="4.80" fill="#e49e2a"/><text x="425.50" y="305.30" fill="#3a1c00" stroke="#3a1c00">P</text><rect x="429.15" y="299.10" width="7.30" height="8.0" fill="#1a2808"/><rect x="430.05" y="300.00" width="5.50" height="6.20" fill="#c2f286"/><rect x="430.75" y="300.70" width="4.10" height="4.80" fill="#7cc434"/><text x="432.80" y="305.30" fill="#081800" stroke="#081800">A</text><rect x="436.45" y="299.10" width="7.30" height="8.0" fill="#2a1800"/><rect x="437.35" y="300.00" width="5.50" height="6.20" fill="#fad488"/><rect x="438.05" y="300.70" width="4.10" height="4.80" fill="#e49e2a"/><text x="440.10" y="305.30" fill="#3a1c00" stroke="#3a1c00">P</text><rect x="443.75" y="299.10" width="7.30" height="8.0" fill="#2a1800"/><rect x="444.65" y="300.00" width="5.50" height="6.20" fill="#fad488"/><rect x="445.35" y="300.70" width="4.10" height="4.80" fill="#e49e2a"/><text x="447.40" y="305.30" fill="#3a1c00" stroke="#3a1c00">P</text><rect x="451.05" y="299.10" width="7.30" height="8.0" fill="#2a1800"/><rect x="451.95" y="300.00" width="5.50" height="6.20" fill="#fad488"/><rect x="452.65" y="300.70" width="4.10" height="4.80" fill="#e49e2a"/><text x="454.70" y="305.30" fill="#3a1c00" stroke="#3a1c00">P</text><rect x="458.35" y="299.10" width="7.30" height="8.0" fill="#2a1800"/><rect x="459.25" y="300.00" width="5.50" height="6.20" fill="#fad488"/><rect x="459.95" y="300.70" width="4.10" height="4.80" fill="#e49e2a"/><text x="462.00" y="305.30" fill="#3a1c00" stroke="#3a1c00">P</text><rect x="465.65" y="299.10" width="7.30" height="8.0" fill="#2a1800"/><rect x="466.55" y="300.00" width="5.50" height="6.20" fill="#fad488"/><rect x="467.25" y="300.70" width="4.10" height="4.80" fill="#e49e2a"/><text x="469.30" y="305.30" fill="#3a1c00" stroke="#3a1c00">P</text><rect x="472.95" y="299.10" width="7.30" height="8.0" fill="#2a1800"/><rect x="473.85" y="300.00" width="5.50" height="6.20" fill="#fad488"/><rect x="474.55" y="300.70" width="4.10" height="4.80" fill="#e49e2a"/><text x="476.60" y="305.30" fill="#3a1c00" stroke="#3a1c00">P</text><rect x="480.25" y="299.10" width="7.30" height="8.0" fill="#2a1800"/><rect x="481.15" y="300.00" width="5.50" height="6.20" fill="#fad488"/><rect x="481.85" y="300.70" width="4.10" height="4.80" fill="#e49e2a"/><text x="483.90" y="305.30" fill="#3a1c00" stroke="#3a1c00">P</text><rect x="487.55" y="299.10" width="7.30" height="8.0" fill="#2a1800"/><rect x="488.45" y="300.00" width="5.50" height="6.20" fill="#fad488"/><rect x="489.15" y="300.70" width="4.10" height="4.80" fill="#e49e2a"/><text x="491.20" y="305.30" fill="#3a1c00" stroke="#3a1c00">P</text><rect x="494.85" y="299.10" width="7.30" height="8.0" fill="#2a1800"/><rect x="495.75" y="300.00" width="5.50" height="6.20" fill="#fad488"/><rect x="496.45" y="300.70" width="4.10" height="4.80" fill="#e49e2a"/><text x="498.50" y="305.30" fill="#3a1c00" stroke="#3a1c00">P</text><rect x="502.15" y="299.10" width="7.30" height="8.0" fill="#2a1800"/><rect x="503.05" y="300.00" width="5.50" height="6.20" fill="#fad488"/><rect x="503.75" y="300.70" width="4.10" height="4.80" fill="#e49e2a"/><text x="505.80" y="305.30" fill="#3a1c00" stroke="#3a1c00">P</text>
<rect x="144.45" y="309.90" width="365.00" height="8.0" fill="#1e1e1e"/><rect x="144.45" y="309.90" width="7.30" height="8.0" fill="#202020"/><rect x="145.35" y="310.80" width="5.50" height="6.20" fill="#e6e6e6"/><rect x="146.05" y="311.50" width="4.10" height="4.80" fill="#b2b2b2"/><text x="148.10" y="316.10" fill="#101010" stroke="#101010">S</text><rect x="151.75" y="309.90" width="7.30" height="8.0" fill="#202020"/><rect x="152.65" y="310.80" width="5.50" height="6.20" fill="#e6e6e6"/><rect x="153.35" y="311.50" width="4.10" height="4.80" fill="#b2b2b2"/><text x="155.40" y="316.10" fill="#101010" stroke="#101010">S</text><rect x="159.05" y="309.90" width="7.30" height="8.0" fill="#202020"/><rect x="159.95" y="310.80" width="5.50" height="6.20" fill="#e6e6e6"/><rect x="160.65" y="311.50" width="4.10" height="4.80" fill="#b2b2b2"/><text x="162.70" y="316.10" fill="#101010" stroke="#101010">S</text><rect x="166.35" y="309.90" width="7.30" height="8.0" fill="#000000"/><rect x="167.25" y="310.80" width="5.50" height="6.20" fill="#000000"/><rect x="167.95" y="311.50" width="4.10" height="4.80" fill="#000000"/><text x="170.00" y="316.10" fill="#ffffff">C</text><rect x="173.65" y="309.90" width="7.30" height="8.0" fill="#202020"/><rect x="174.55" y="310.80" width="5.50" height="6.20" fill="#ffffff"/><rect x="175.25" y="311.50" width="4.10" height="4.80" fill="#f8f8f8"/><text x="177.30" y="316.10" fill="#101010" stroke="#101010">T</text><rect x="180.95" y="309.90" width="7.30" height="8.0" fill="#202020"/><rect x="181.85" y="310.80" width="5.50" height="6.20" fill="#ffffff"/><rect x="182.55" y="311.50" width="4.10" height="4.80" fill="#f8f8f8"/><text x="184.60" y="316.10" fill="#101010" stroke="#101010">T</text><rect x="188.25" y="309.90" width="7.30" height="8.0" fill="#202020"/><rect x="189.15" y="310.80" width="5.50" height="6.20" fill="#ffffff"/><rect x="189.85" y="311.50" width="4.10" height="4.80" fill="#f8f8f8"/><text x="191.90" y="316.10" fill="#101010" stroke="#101010">T</text><rect x="195.55" y="309.90" width="7.30" height="8.0" fill="#202020"/><rect x="196.45" y="310.80" width="5.50" height="6.20" fill="#ffffff"/><rect x="197.15" y="311.50" width="4.10" height="4.80" fill="#f8f8f8"/><text x="199.20" y="316.10" fill="#101010" stroke="#101010">T</text><rect x="202.85" y="309.90" width="7.30" height="8.0" fill="#202020"/><rect x="203.75" y="310.80" width="5.50" height="6.20" fill="#ffffff"/><rect x="204.45" y="311.50" width="4.10" height="4.80" fill="#f8f8f8"/><text x="206.50" y="316.10" fill="#101010" stroke="#101010">T</text><rect x="210.15" y="309.90" width="7.30" height="8.0" fill="#202020"/><rect x="211.05" y="310.80" width="5.50" height="6.20" fill="#ffffff"/><rect x="211.75" y="311.50" width="4.10" height="4.80" fill="#f8f8f8"/><text x="213.80" y="316.10" fill="#101010" stroke="#101010">T</text><rect x="217.45" y="309.90" width="7.30" height="8.0" fill="#202020"/><rect x="218.35" y="310.80" width="5.50" height="6.20" fill="#ffffff"/><rect x="219.05" y="311.50" width="4.10" height="4.80" fill="#f8f8f8"/><text x="221.10" y="316.10" fill="#101010" stroke="#101010">T</text><rect x="224.75" y="309.90" width="7.30" height="8.0" fill="#202020"/><rect x="225.65" y="310.80" width="5.50" height="6.20" fill="#ffffff"/><rect x="226.35" y="311.50" width="4.10" height="4.80" fill="#f8f8f8"/><text x="228.40" y="316.10" fill="#101010" stroke="#101010">T</text><rect x="232.05" y="309.90" width="7.30" height="8.0" fill="#202020"/><rect x="232.95" y="310.80" width="5.50" height="6.20" fill="#ffffff"/><rect x="233.65" y="311.50" width="4.10" height="4.80" fill="#f8f8f8"/><text x="235.70" y="316.10" fill="#101010" stroke="#101010">T</text><rect x="239.35" y="309.90" width="7.30" height="8.0" fill="#202020"/><rect x="240.25" y="310.80" width="5.50" height="6.20" fill="#ffffff"/><rect x="240.95" y="311.50" width="4.10" height="4.80" fill="#f8f8f8"/><text x="243.00" y="316.10" fill="#101010" stroke="#101010">T</text><rect x="246.65" y="309.90" width="7.30" height="8.0" fill="#202020"/><rect x="247.55" y="310.80" width="5.50" height="6.20" fill="#ffffff"/><rect x="248.25" y="311.50" width="4.10" height="4.80" fill="#f8f8f8"/><text x="250.30" y="316.10" fill="#101010" stroke="#101010">T</text><rect x="253.95" y="309.90" width="7.30" height="8.0" fill="#202020"/><rect x="254.85" y="310.80" width="5.50" height="6.20" fill="#ffffff"/><rect x="255.55" y="311.50" width="4.10" height="4.80" fill="#f8f8f8"/><text x="257.60" y="316.10" fill="#101010" stroke="#101010">T</text><rect x="261.25" y="309.90" width="7.30" height="8.0" fill="#202020"/><rect x="262.15" y="310.80" width="5.50" height="6.20" fill="#ffffff"/><rect x="262.85" y="311.50" width="4.10" height="4.80" fill="#f8f8f8"/><text x="264.90" y="316.10" fill="#101010" stroke="#101010">T</text><rect x="268.55" y="309.90" width="7.30" height="8.0" fill="#202020"/><rect x="269.45" y="310.80" width="5.50" height="6.20" fill="#ffffff"/><rect x="270.15" y="311.50" width="4.10" height="4.80" fill="#f8f8f8"/><text x="272.20" y="316.10" fill="#101010" stroke="#101010">T</text><rect x="275.85" y="309.90" width="7.30" height="8.0" fill="#202020"/><rect x="276.75" y="310.80" width="5.50" height="6.20" fill="#ffffff"/><rect x="277.45" y="311.50" width="4.10" height="4.80" fill="#f8f8f8"/><text x="279.50" y="316.10" fill="#101010" stroke="#101010">T</text><rect x="283.15" y="309.90" width="7.30" height="8.0" fill="#202020"/><rect x="284.05" y="310.80" width="5.50" height="6.20" fill="#ffffff"/><rect x="284.75" y="311.50" width="4.10" height="4.80" fill="#f8f8f8"/><text x="286.80" y="316.10" fill="#101010" stroke="#101010">T</text><rect x="290.45" y="309.90" width="7.30" height="8.0" fill="#202020"/><rect x="291.35" y="310.80" width="5.50" height="6.20" fill="#ffffff"/><rect x="292.05" y="311.50" width="4.10" height="4.80" fill="#f8f8f8"/><text x="294.10" y="316.10" fill="#101010" stroke="#101010">T</text><rect x="297.75" y="309.90" width="7.30" height="8.0" fill="#202020"/><rect x="298.65" y="310.80" width="5.50" height="6.20" fill="#ffffff"/><rect x="299.35" y="311.50" width="4.10" height="4.80" fill="#f8f8f8"/><text x="301.40" y="316.10" fill="#101010" stroke="#101010">T</text><rect x="305.05" y="309.90" width="7.30" height="8.0" fill="#202020"/><rect x="305.95" y="310.80" width="5.50" height="6.20" fill="#ffffff"/><rect x="306.65" y="311.50" width="4.10" height="4.80" fill="#f8f8f8"/><text x="308.70" y="316.10" fill="#101010" stroke="#101010">T</text><rect x="312.35" y="309.90" width="7.30" height="8.0" fill="#202020"/><rect x="313.25" y="310.80" width="5.50" height="6.20" fill="#ffffff"/><rect x="313.95" y="311.50" width="4.10" height="4.80" fill="#f8f8f8"/><text x="316.00" y="316.10" fill="#101010" stroke="#101010">T</text><rect x="319.65" y="309.90" width="7.30" height="8.0" fill="#202020"/><rect x="320.55" y="310.80" width="5.50" height="6.20" fill="#ffffff"/><rect x="321.25" y="311.50" width="4.10" height="4.80" fill="#f8f8f8"/><text x="323.30" y="316.10" fill="#101010" stroke="#101010">T</text><rect x="326.95" y="309.90" width="7.30" height="8.0" fill="#202020"/><rect x="327.85" y="310.80" width="5.50" height="6.20" fill="#ffffff"/><rect x="328.55" y="311.50" width="4.10" height="4.80" fill="#f8f8f8"/><text x="330.60" y="316.10" fill="#101010" stroke="#101010">T</text><rect x="334.25" y="309.90" width="7.30" height="8.0" fill="#202020"/><rect x="335.15" y="310.80" width="5.50" height="6.20" fill="#ffffff"/><rect x="335.85" y="311.50" width="4.10" height="4.80" fill="#f8f8f8"/><text x="337.90" y="316.10" fill="#101010" stroke="#101010">T</text><rect x="341.55" y="309.90" width="7.30" height="8.0" fill="#202020"/><rect x="342.45" y="310.80" width="5.50" height="6.20" fill="#ffffff"/><rect x="343.15" y="311.50" width="4.10" height="4.80" fill="#f8f8f8"/><text x="345.20" y="316.10" fill="#101010" stroke="#101010">T</text><rect x="348.85" y="309.90" width="7.30" height="8.0" fill="#202020"/><rect x="349.75" y="310.80" width="5.50" height="6.20" fill="#ffffff"/><rect x="350.45" y="311.50" width="4.10" height="4.80" fill="#f8f8f8"/><text x="352.50" y="316.10" fill="#101010" stroke="#101010">T</text><rect x="356.15" y="309.90" width="7.30" height="8.0" fill="#202020"/><rect x="357.05" y="310.80" width="5.50" height="6.20" fill="#ffffff"/><rect x="357.75" y="311.50" width="4.10" height="4.80" fill="#f8f8f8"/><text x="359.80" y="316.10" fill="#101010" stroke="#101010">T</text><rect x="363.45" y="309.90" width="7.30" height="8.0" fill="#202020"/><rect x="364.35" y="310.80" width="5.50" height="6.20" fill="#ffffff"/><rect x="365.05" y="311.50" width="4.10" height="4.80" fill="#f8f8f8"/><text x="367.10" y="316.10" fill="#101010" stroke="#101010">T</text><rect x="370.75" y="309.90" width="7.30" height="8.0" fill="#202020"/><rect x="371.65" y="310.80" width="5.50" height="6.20" fill="#ffffff"/><rect x="372.35" y="311.50" width="4.10" height="4.80" fill="#f8f8f8"/><text x="374.40" y="316.10" fill="#101010" stroke="#101010">T</text><rect x="378.05" y="309.90" width="7.30" height="8.0" fill="#202020"/><rect x="378.95" y="310.80" width="5.50" height="6.20" fill="#ffffff"/><rect x="379.65" y="311.50" width="4.10" height="4.80" fill="#f8f8f8"/><text x="381.70" y="316.10" fill="#101010" stroke="#101010">T</text><rect x="385.35" y="309.90" width="7.30" height="8.0" fill="#202020"/><rect x="386.25" y="310.80" width="5.50" height="6.20" fill="#ffffff"/><rect x="386.95" y="311.50" width="4.10" height="4.80" fill="#f8f8f8"/><text x="389.00" y="316.10" fill="#101010" stroke="#101010">T</text><rect x="392.65" y="309.90" width="7.30" height="8.0" fill="#202020"/><rect x="393.55" y="310.80" width="5.50" height="6.20" fill="#ffffff"/><rect x="394.25" y="311.50" width="4.10" height="4.80" fill="#f8f8f8"/><text x="396.30" y="316.10" fill="#101010" stroke="#101010">T</text><rect x="399.95" y="309.90" width="7.30" height="8.0" fill="#202020"/><rect x="400.85" y="310.80" width="5.50" height="6.20" fill="#ffffff"/><rect x="401.55" y="311.50" width="4.10" height="4.80" fill="#f8f8f8"/><text x="403.60" y="316.10" fill="#101010" stroke="#101010">T</text><rect x="407.25" y="309.90" width="7.30" height="8.0" fill="#202020"/><rect x="408.15" y="310.80" width="5.50" height="6.20" fill="#ffffff"/><rect x="408.85" y="311.50" width="4.10" height="4.80" fill="#f8f8f8"/><text x="410.90" y="316.10" fill="#101010" stroke="#101010">T</text><rect x="414.55" y="309.90" width="7.30" height="8.0" fill="#202020"/><rect x="415.45" y="310.80" width="5.50" height="6.20" fill="#ffffff"/><rect x="416.15" y="311.50" width="4.10" height="4.80" fill="#f8f8f8"/><text x="418.20" y="316.10" fill="#101010" stroke="#101010">T</text><rect x="421.85" y="309.90" width="7.30" height="8.0" fill="#202020"/><rect x="422.75" y="310.80" width="5.50" height="6.20" fill="#ffffff"/><rect x="423.45" y="311.50" width="4.10" height="4.80" fill="#f8f8f8"/><text x="425.50" y="316.10" fill="#101010" stroke="#101010">T</text><rect x="429.15" y="309.90" width="7.30" height="8.0" fill="#202020"/><rect x="430.05" y="310.80" width="5.50" height="6.20" fill="#ffffff"/><rect x="430.75" y="311.50" width="4.10" height="4.80" fill="#f8f8f8"/><text x="432.80" y="316.10" fill="#101010" stroke="#101010">T</text><rect x="436.45" y="309.90" width="7.30" height="8.0" fill="#202020"/><rect x="437.35" y="310.80" width="5.50" height="6.20" fill="#ffffff"/><rect x="438.05" y="311.50" width="4.10" height="4.80" fill="#f8f8f8"/><text x="440.10" y="316.10" fill="#101010" stroke="#101010">T</text><rect x="443.75" y="309.90" width="7.30" height="8.0" fill="#202020"/><rect x="444.65" y="310.80" width="5.50" height="6.20" fill="#ffffff"/><rect x="445.35" y="311.50" width="4.10" height="4.80" fill="#f8f8f8"/><text x="447.40" y="316.10" fill="#101010" stroke="#101010">T</text><rect x="451.05" y="309.90" width="7.30" height="8.0" fill="#202020"/><rect x="451.95" y="310.80" width="5.50" height="6.20" fill="#ffffff"/><rect x="452.65" y="311.50" width="4.10" height="4.80" fill="#f8f8f8"/><text x="454.70" y="316.10" fill="#101010" stroke="#101010">T</text><rect x="458.35" y="309.90" width="7.30" height="8.0" fill="#202020"/><rect x="459.25" y="310.80" width="5.50" height="6.20" fill="#ffffff"/><rect x="459.95" y="311.50" width="4.10" height="4.80" fill="#f8f8f8"/><text x="462.00" y="316.10" fill="#101010" stroke="#101010">T</text><rect x="465.65" y="309.90" width="7.30" height="8.0" fill="#202020"/><rect x="466.55" y="310.80" width="5.50" height="6.20" fill="#ffffff"/><rect x="467.25" y="311.50" width="4.10" height="4.80" fill="#f8f8f8"/><text x="469.30" y="316.10" fill="#101010" stroke="#101010">T</text><rect x="472.95" y="309.90" width="7.30" height="8.0" fill="#202020"/><rect x="473.85" y="310.80" width="5.50" height="6.20" fill="#ffffff"/><rect x="474.55" y="311.50" width="4.10" height="4.80" fill="#f8f8f8"/><text x="476.60" y="316.10" fill="#101010" stroke="#101010">T</text><rect x="480.25" y="309.90" width="7.30" height="8.0" fill="#202020"/><rect x="481.15" y="310.80" width="5.50" height="6.20" fill="#ffffff"/><rect x="481.85" y="311.50" width="4.10" height="4.80" fill="#f8f8f8"/><text x="483.90" y="316.10" fill="#101010" stroke="#101010">T</text><rect x="487.55" y="309.90" width="7.30" height="8.0" fill="#202020"/><rect x="488.45" y="310.80" width="5.50" height="6.20" fill="#ffffff"/><rect x="489.15" y="311.50" width="4.10" height="4.80" fill="#f8f8f8"/><text x="491.20" y="316.10" fill="#101010" stroke="#101010">T</text><rect x="494.85" y="309.90" width="7.30" height="8.0" fill="#202020"/><rect x="495.75" y="310.80" width="5.50" height="6.20" fill="#ffffff"/><rect x="496.45" y="311.50" width="4.10" height="4.80" fill="#f8f8f8"/><text x="498.50" y="316.10" fill="#101010" stroke="#101010">T</text><rect x="502.15" y="309.90" width="7.30" height="8.0" fill="#202020"/><rect x="503.05" y="310.80" width="5.50" height="6.20" fill="#ffffff"/><rect x="503.75" y="311.50" width="4.10" height="4.80" fill="#f8f8f8"/><text x="505.80" y="316.10" fill="#101010" stroke="#101010">T</text>
<rect x="144.45" y="320.40" width="73.00" height="8.0" fill="#1e1e1e"/><rect x="144.45" y="320.40" width="7.30" height="8.0" fill="#202020"/><rect x="145.35" y="321.30" width="5.50" height="6.20" fill="#ffffff"/><rect x="146.05" y="322.00" width="4.10" height="4.80" fill="#eaeaea"/><text x="148.10" y="326.60" fill="#101010" stroke="#101010">G</text><rect x="151.75" y="320.40" width="7.30" height="8.0" fill="#202020"/><rect x="152.65" y="321.30" width="5.50" height="6.20" fill="#ffffff"/><rect x="153.35" y="322.00" width="4.10" height="4.80" fill="#eaeaea"/><text x="155.40" y="326.60" fill="#101010" stroke="#101010">G</text><rect x="159.05" y="320.40" width="7.30" height="8.0" fill="#202020"/><rect x="159.95" y="321.30" width="5.50" height="6.20" fill="#ffffff"/><rect x="160.65" y="322.00" width="4.10" height="4.80" fill="#eaeaea"/><text x="162.70" y="326.60" fill="#101010" stroke="#101010">G</text><rect x="166.35" y="320.40" width="7.30" height="8.0" fill="#202020"/><rect x="167.25" y="321.30" width="5.50" height="6.20" fill="#ffffff"/><rect x="167.95" y="322.00" width="4.10" height="4.80" fill="#eaeaea"/><text x="170.00" y="326.60" fill="#101010" stroke="#101010">G</text><rect x="173.65" y="320.40" width="7.30" height="8.0" fill="#202020"/><rect x="174.55" y="321.30" width="5.50" height="6.20" fill="#ffffff"/><rect x="175.25" y="322.00" width="4.10" height="4.80" fill="#eaeaea"/><text x="177.30" y="326.60" fill="#101010" stroke="#101010">G</text><rect x="180.95" y="320.40" width="7.30" height="8.0" fill="#202020"/><rect x="181.85" y="321.30" width="5.50" height="6.20" fill="#ffffff"/><rect x="182.55" y="322.00" width="4.10" height="4.80" fill="#eaeaea"/><text x="184.60" y="326.60" fill="#101010" stroke="#101010">G</text><rect x="188.25" y="320.40" width="7.30" height="8.0" fill="#202020"/><rect x="189.15" y="321.30" width="5.50" height="6.20" fill="#ffffff"/><rect x="189.85" y="322.00" width="4.10" height="4.80" fill="#eaeaea"/><text x="191.90" y="326.60" fill="#101010" stroke="#101010">G</text><rect x="195.55" y="320.40" width="7.30" height="8.0" fill="#000000"/><rect x="196.45" y="321.30" width="5.50" height="6.20" fill="#000000"/><rect x="197.15" y="322.00" width="4.10" height="4.80" fill="#000000"/><text x="199.20" y="326.60" fill="#ffffff">A</text><rect x="202.85" y="320.40" width="7.30" height="8.0" fill="#000000"/><rect x="203.75" y="321.30" width="5.50" height="6.20" fill="#000000"/><rect x="204.45" y="322.00" width="4.10" height="4.80" fill="#000000"/><text x="206.50" y="326.60" fill="#ffffff">A</text><rect x="210.15" y="320.40" width="7.30" height="8.0" fill="#202020"/><rect x="211.05" y="321.30" width="5.50" height="6.20" fill="#ffffff"/><rect x="211.75" y="322.00" width="4.10" height="4.80" fill="#eaeaea"/><text x="213.80" y="326.60" fill="#101010" stroke="#101010">G</text><rect x="268.55" y="320.40" width="7.30" height="8.0" fill="#1e1e1e"/><rect x="268.55" y="320.40" width="7.30" height="8.0" fill="#202020"/><rect x="269.45" y="321.30" width="5.50" height="6.20" fill="#ffffff"/><rect x="270.15" y="322.00" width="4.10" height="4.80" fill="#eaeaea"/><text x="272.20" y="326.60" fill="#101010" stroke="#101010">G</text>
</g>
</svg>
</body></html>
